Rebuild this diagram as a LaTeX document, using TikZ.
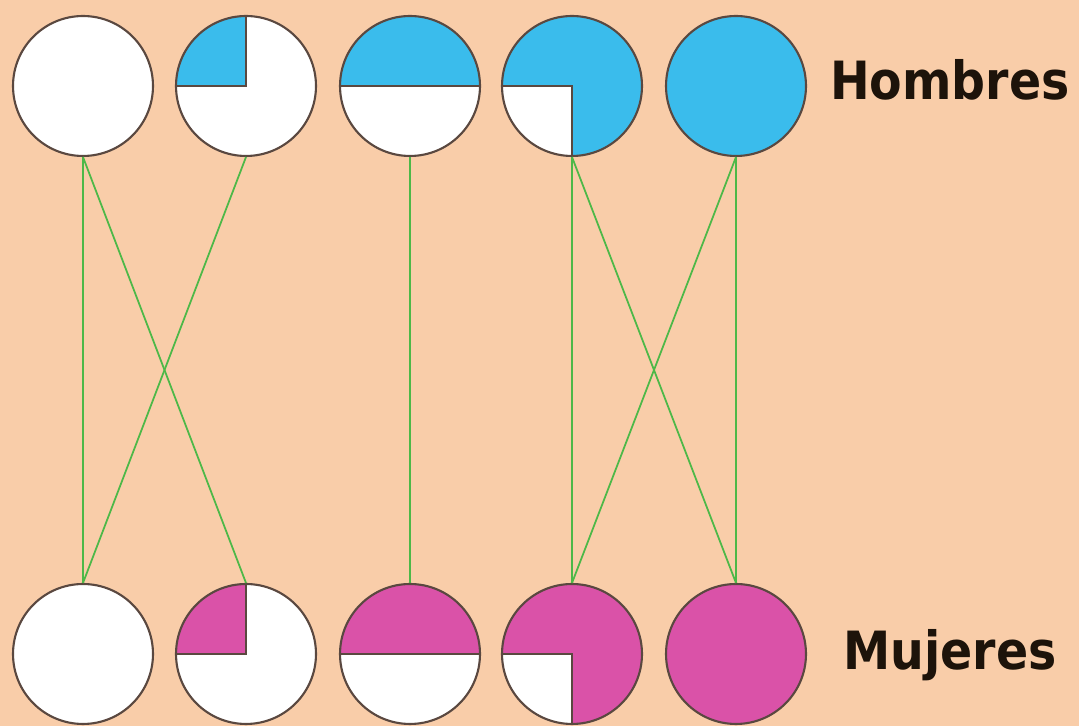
\documentclass[tikz,border=0pt]{standalone}
\usepackage{fontspec}
\setmainfont{DejaVu Sans}
\definecolor{bg}{HTML}{F9CDA9}
\definecolor{hblue}{HTML}{3ABCEC}
\definecolor{mpink}{HTML}{DA52A8}
\definecolor{lgreen}{HTML}{4DB848}
\definecolor{rim}{HTML}{5A4840}
\begin{document}
\begin{tikzpicture}[x=0.02cm,y=0.02cm,
  disc/.style={circle,minimum size=2.8cm,inner sep=0pt,draw=rim,line width=1.2pt},
  link/.style={draw=lgreen,line width=1pt},
  lbl/.style={font=\bfseries\fontsize{30}{30}\selectfont,text=black!85!brown,inner sep=0pt}]
\fill[bg] (0,0) rectangle (1079,726);
\useasboundingbox (0,0) rectangle (1079,726);
\def\R{70}
\foreach \n/\x in {1/83,2/246,3/410,4/572,5/736}{
  \coordinate (tc\n) at (\x,640);
  \coordinate (bc\n) at (\x,72);
}
% fills, top (blue)
\fill[white] (tc1) circle (\R);
\fill[white] (tc2) circle (\R);
\fill[hblue] (tc2) -- ++(-\R,0) arc (180:90:\R) -- cycle;
\fill[white] (tc3) circle (\R);
\fill[hblue] (tc3) ++(\R,0) arc (0:180:\R) -- cycle;
\fill[hblue] (tc4) circle (\R);
\fill[white] (tc4) -- ++(-\R,0) arc (180:270:\R) -- cycle;
\fill[hblue] (tc5) circle (\R);
% fills, bottom (pink)
\fill[white] (bc1) circle (\R);
\fill[white] (bc2) circle (\R);
\fill[mpink] (bc2) -- ++(-\R,0) arc (180:90:\R) -- cycle;
\fill[white] (bc3) circle (\R);
\fill[mpink] (bc3) ++(\R,0) arc (0:180:\R) -- cycle;
\fill[mpink] (bc4) circle (\R);
\fill[white] (bc4) -- ++(-\R,0) arc (180:270:\R) -- cycle;
\fill[mpink] (bc5) circle (\R);
% divider lines
\draw[rim,line width=1.2pt] (tc2) ++(-\R,0) -- (tc2) -- ++(0,\R);
\draw[rim,line width=1.2pt] (tc3) ++(-\R,0) -- ++(2*\R,0);
\draw[rim,line width=1.2pt] (tc4) ++(-\R,0) -- (tc4) -- ++(0,-\R);
\draw[rim,line width=1.2pt] (bc2) ++(-\R,0) -- (bc2) -- ++(0,\R);
\draw[rim,line width=1.2pt] (bc3) ++(-\R,0) -- ++(2*\R,0);
\draw[rim,line width=1.2pt] (bc4) ++(-\R,0) -- (bc4) -- ++(0,-\R);
% outline nodes
\foreach \n in {1,...,5}{
  \node[disc] (t\n) at (tc\n) {};
  \node[disc] (b\n) at (bc\n) {};
}
% connectors
\draw[link] (t1.south) -- (b1.north);
\draw[link] (t1.south) -- (b2.north);
\draw[link] (t2.south) -- (b1.north);
\draw[link] (t3.south) -- (b3.north);
\draw[link] (t4.south) -- (b4.north);
\draw[link] (t4.south) -- (b5.north);
\draw[link] (t5.south) -- (b4.north);
\draw[link] (t5.south) -- (b5.north);
% labels
\node[lbl] (hom) at (950,646) {\scalebox{0.9}[1]{Hombres}};
\node[lbl] (muj) at (950,71) {\scalebox{0.9}[1]{Mujeres}};
\end{tikzpicture}
\end{document}
